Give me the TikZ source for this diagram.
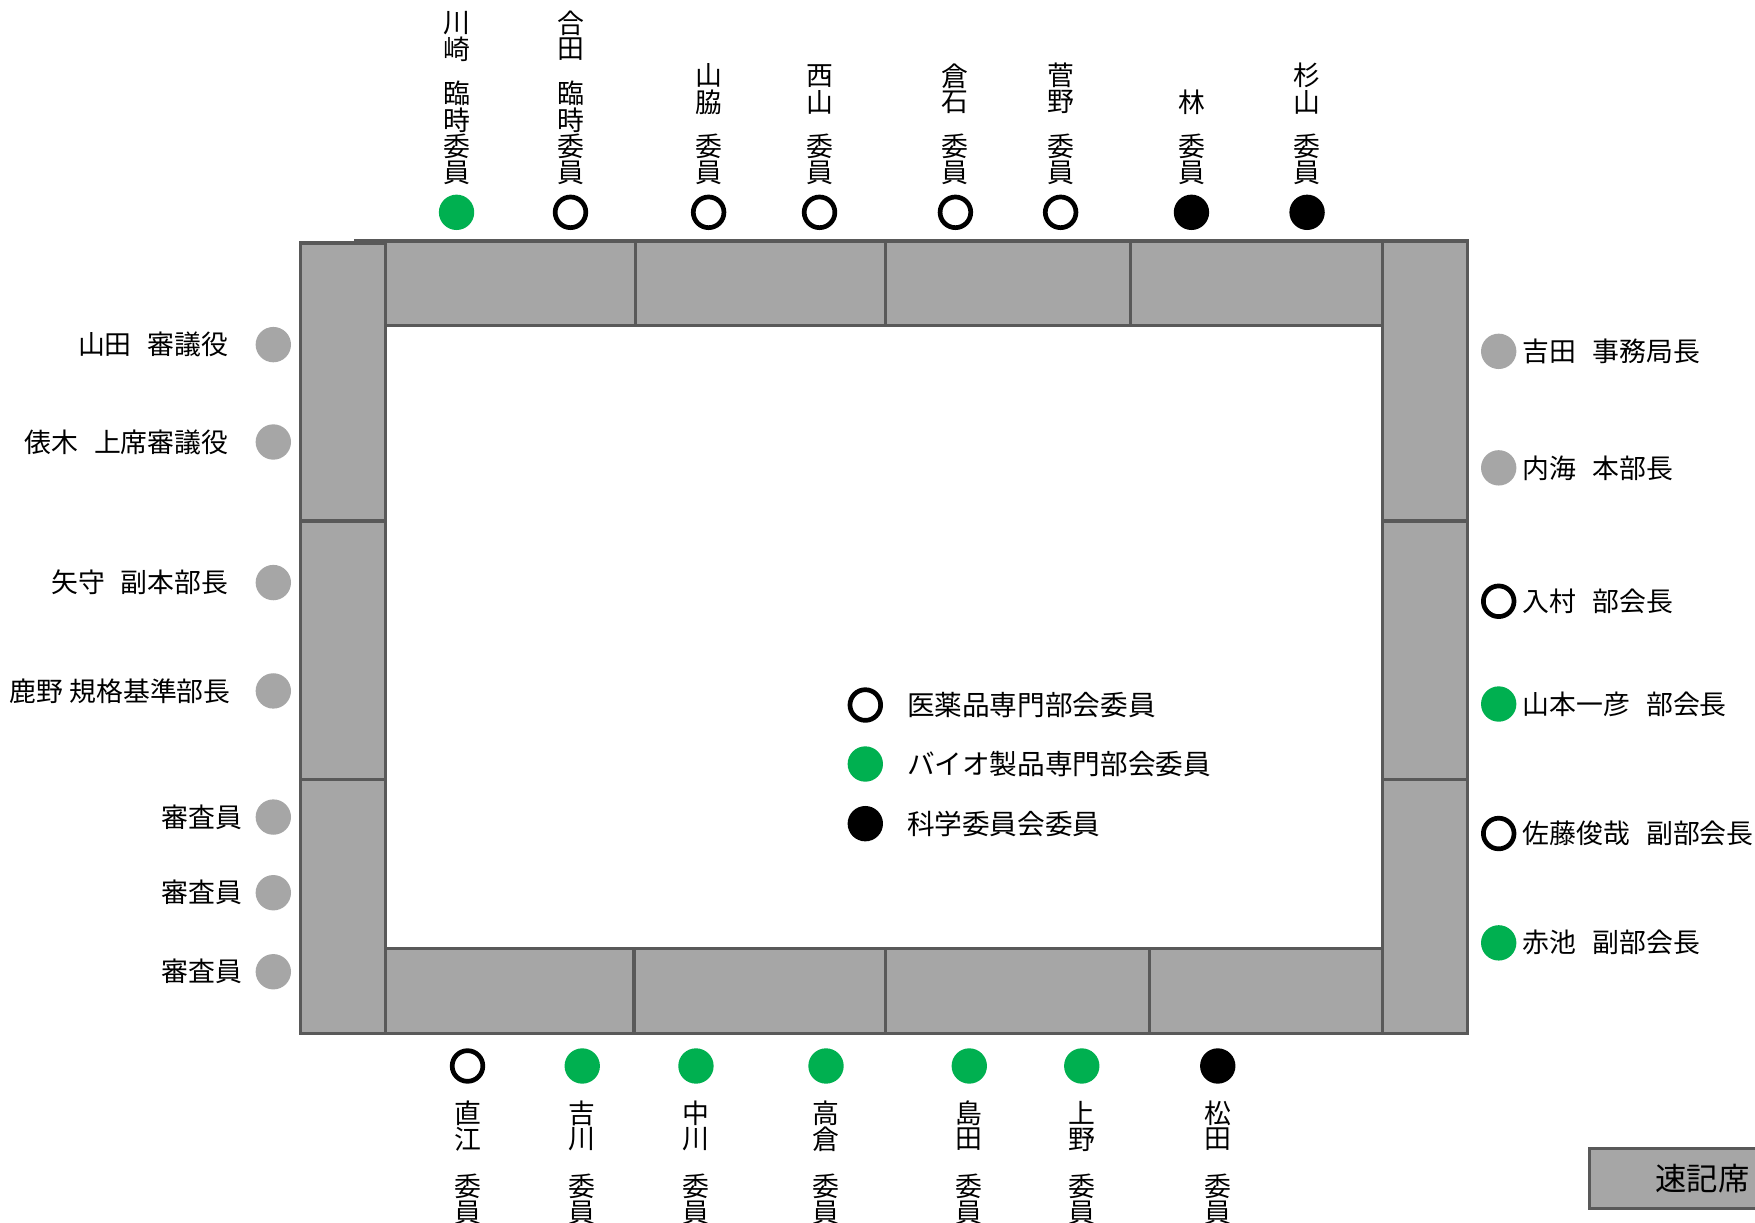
\documentclass[tikz,border=0pt]{standalone}
\usepackage{fontspec}
\newfontfamily\jp{Noto Sans CJK JP}
\definecolor{tgray}{HTML}{A6A6A6}
\definecolor{tline}{HTML}{595959}
\definecolor{bgreen}{HTML}{00B050}
\newcommand\gp{\hspace{0.6em}}
\newcommand\vlab[4]{\foreach \ch [count=\k] in {#4} {\node[vch] (#1-\k) at (#2,{#3+(\k-1)*23.6}) {\ch};}}
\begin{document}
\begin{tikzpicture}[x=0.5pt,y=-0.5pt,
  tbl/.style={fill=tgray,draw=tline,line width=1.5pt},
  seatopen/.style={circle,draw=black,line width=2.1pt,fill=white,minimum size=13.7pt,inner sep=0pt},
  seatgreen/.style={circle,fill=bgreen,minimum size=15.8pt,inner sep=0pt},
  seatblack/.style={circle,fill=black,minimum size=15.8pt,inner sep=0pt},
  seatgray/.style={circle,fill=tgray,minimum size=15.8pt,inner sep=0pt},
  lbl/.style={font=\jp\fontsize{12}{14}\selectfont,inner sep=0pt,text=black},
  leglbl/.style={font=\jp\fontsize{12.35}{14}\selectfont,inner sep=0pt,text=black,anchor=west},
  vch/.style={lbl}]
\useasboundingbox (0,0) rectangle (1568,1092);
\clip (0,0) rectangle (1568,1092);
\fill[white] (0,0) rectangle (1568,1092);

% top row
\path[tbl] (318,215.3) rectangle (568,291);
\path[tbl] (568,215.3) rectangle (791,291);
\path[tbl] (791,215.3) rectangle (1010.2,291);
\path[tbl] (1010.2,215.3) rectangle (1235.3,291);
% bottom row
\path[tbl] (318,847.2) rectangle (566.4,923.2);
\path[tbl] (566.4,847.2) rectangle (791,923.2);
\path[tbl] (791,847.2) rectangle (1027,923.2);
\path[tbl] (1027,847.2) rectangle (1235.3,923.2);
% left column
\path[tbl] (268.3,217) rectangle (344.5,465.5);
\path[tbl] (268.3,465.5) rectangle (344.5,696.5);
\path[tbl] (268.3,696.5) rectangle (344.5,923.2);
% right column
\path[tbl] (1235.3,215.3) rectangle (1311.3,465.5);
\path[tbl] (1235.3,465.5) rectangle (1311.3,696.5);
\path[tbl] (1235.3,696.5) rectangle (1311.3,923.2);

% top seats
\node[seatgreen] (t1) at (407.9,189.7) {};
\node[seatopen]  (t2) at (509.7,189.7) {};
\node[seatopen]  (t3) at (633.1,189.7) {};
\node[seatopen]  (t4) at (732.2,189.7) {};
\node[seatopen]  (t5) at (853.6,189.7) {};
\node[seatopen]  (t6) at (947.6,189.7) {};
\node[seatblack] (t7) at (1064.5,189.7) {};
\node[seatblack] (t8) at (1167.8,189.7) {};
% top labels
\vlab{tn1}{407.9}{20.6}{川,崎}  \vlab{tt1}{407.9}{83.6}{臨,時,委,員}
\vlab{tn2}{509.7}{20.6}{合,田}  \vlab{tt2}{509.7}{83.6}{臨,時,委,員}
\vlab{tn3}{633.1}{67.7}{山,脇}  \vlab{tt3}{633.1}{130.8}{委,員}
\vlab{tn4}{732.2}{67.7}{西,山}  \vlab{tt4}{732.2}{130.8}{委,員}
\vlab{tn5}{853.6}{67.7}{倉,石}  \vlab{tt5}{853.6}{130.8}{委,員}
\vlab{tn6}{947.6}{67.7}{菅,野}  \vlab{tt6}{947.6}{130.8}{委,員}
\vlab{tn7}{1064.5}{91.3}{林}    \vlab{tt7}{1064.5}{130.8}{委,員}
\vlab{tn8}{1167.8}{67.7}{杉,山} \vlab{tt8}{1167.8}{130.8}{委,員}

% bottom seats
\node[seatopen]  (b1) at (417.7,952.4) {};
\node[seatgreen] (b2) at (520.2,952.4) {};
\node[seatgreen] (b3) at (621.8,952.4) {};
\node[seatgreen] (b4) at (738,952.4) {};
\node[seatgreen] (b5) at (866,952.4) {};
\node[seatgreen] (b6) at (966.5,952.4) {};
\node[seatblack] (b7) at (1088,952.4) {};
% bottom labels
\vlab{bn1}{417.7}{994.5}{直,江} \vlab{bt1}{417.7}{1060.2}{委,員}
\vlab{bn2}{520.2}{994.5}{吉,川} \vlab{bt2}{520.2}{1060.2}{委,員}
\vlab{bn3}{621.8}{994.5}{中,川} \vlab{bt3}{621.8}{1060.2}{委,員}
\vlab{bn4}{738}{994.5}{高,倉}   \vlab{bt4}{738}{1060.2}{委,員}
\vlab{bn5}{866}{994.5}{島,田}   \vlab{bt5}{866}{1060.2}{委,員}
\vlab{bn6}{966.5}{994.5}{上,野} \vlab{bt6}{966.5}{1060.2}{委,員}
\vlab{bn7}{1088}{994.5}{松,田}  \vlab{bt7}{1088}{1060.2}{委,員}

% left seats and labels
\node[seatgray] (l1) at (244.2,307.9) {};
\node[seatgray] (l2) at (244.2,394.9) {};
\node[seatgray] (l3) at (244.2,520.5) {};
\node[seatgray] (l4) at (244.2,617.3) {};
\node[seatgray] (l5) at (244.2,730) {};
\node[seatgray] (l6) at (244.2,797.6) {};
\node[seatgray] (l7) at (244.2,868.2) {};
\node[lbl,anchor=east] (ll1) at (204.5,307.9) {山田\gp 審議役};
\node[lbl,anchor=east] (ll2) at (204.5,394.9) {俵木\gp 上席審議役};
\node[lbl,anchor=east] (ll3) at (204.5,520.5) {矢守\gp 副本部長};
\node[lbl,anchor=east] (ll4) at (206.5,617.3) {鹿野 規格基準部長};
\node[lbl,anchor=east] (ll5) at (217,730) {審査員};
\node[lbl,anchor=east] (ll6) at (217,797.6) {審査員};
\node[lbl,anchor=east] (ll7) at (217,868.2) {審査員};

% right seats and labels
\node[seatgray]  (r1) at (1339,313.9) {};
\node[seatgray]  (r2) at (1339,418) {};
\node[seatopen]  (r3) at (1339,537.2) {};
\node[seatgreen] (r4) at (1339,629) {};
\node[seatopen]  (r5) at (1339,744.7) {};
\node[seatgreen] (r6) at (1339,842.4) {};
\node[lbl,anchor=west] (rl1) at (1360,313.9) {吉田\gp 事務局長};
\node[lbl,anchor=west] (rl2) at (1360,418) {内海\gp 本部長};
\node[lbl,anchor=west] (rl3) at (1360,537.2) {入村\gp 部会長};
\node[lbl,anchor=west] (rl4) at (1360,629) {山本一彦\gp 部会長};
\node[lbl,anchor=west] (rl5) at (1360,744.7) {佐藤俊哉\gp 副部会長};
\node[lbl,anchor=west] (rl6) at (1360,842.4) {赤池\gp 副部会長};

% legend
\node[seatopen]  (g1) at (773.1,629.9) {};
\node[seatgreen] (g2) at (773.1,682.6) {};
\node[seatblack] (g3) at (773.1,735.9) {};
\node[leglbl] (gl1) at (810,629.9) {医薬品専門部会委員};
\node[leglbl] (gl2) at (810,682.6) {バイオ製品専門部会委員};
\node[leglbl] (gl3) at (810,735.9) {科学委員会委員};

% stenographer seat
\path[tbl] (1420,1026.2) rectangle (1600,1079.8);
\node[font=\jp\fontsize{14}{16}\selectfont,inner sep=0pt] (sk) at (1521,1052.7) {速記席};
\end{tikzpicture}
\end{document}
